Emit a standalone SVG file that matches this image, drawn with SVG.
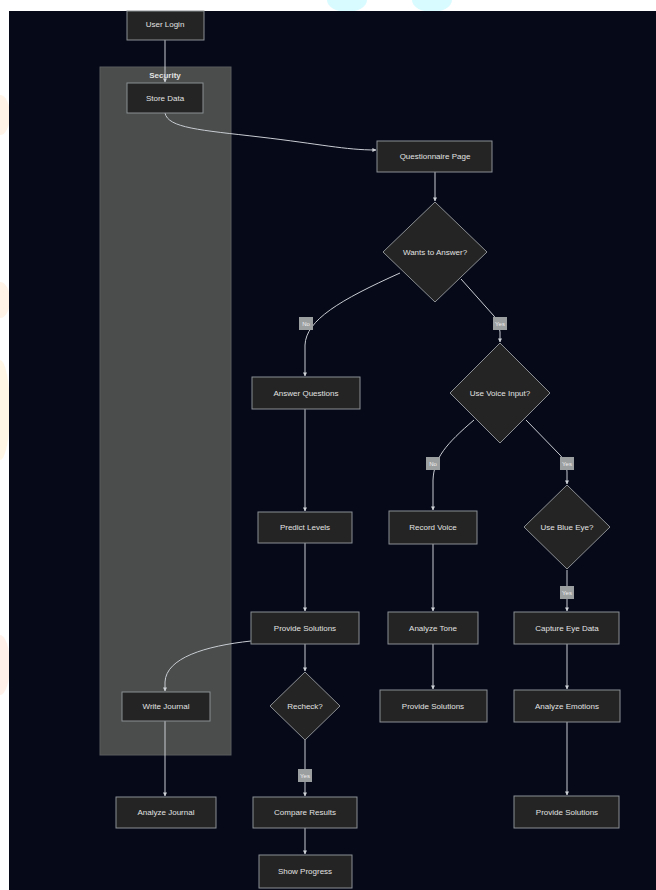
<svg xmlns="http://www.w3.org/2000/svg" width="656" height="890" viewBox="0 0 656 890">
<style>
.nd{fill:#232423;stroke:#8c8f93;stroke-width:1}
.tx{font-family:"Liberation Sans",Arial,sans-serif;font-size:8px;fill:#e2e2e2;text-anchor:middle;dominant-baseline:central}
.ed{fill:none;stroke:#c9ccd2;stroke-width:1}
.lb{fill:#9c9fa0}
.lt{font-family:"Liberation Sans",Arial,sans-serif;font-size:6px;fill:#eeeeee;text-anchor:middle;dominant-baseline:central}
</style>
<defs>
<marker id="ah" viewBox="0 0 10 10" refX="9" refY="5" markerWidth="4" markerHeight="4" orient="auto">
<path d="M0,0 L10,5 L0,10 z" fill="#d0d3d8"/>
</marker>
</defs>
<rect x="0" y="0" width="656" height="890" fill="#ffffff"/>
<g opacity="0.3">
<ellipse cx="347" cy="0" rx="20" ry="12" fill="#7ff2ff"/>
<ellipse cx="432" cy="0" rx="20" ry="12" fill="#7ff2ff"/>
</g>
<g opacity="0.15">
<ellipse cx="0" cy="115" rx="10" ry="20" fill="#ffb060"/>
<ellipse cx="0" cy="300" rx="10" ry="18" fill="#ffb060"/>
<ellipse cx="0" cy="410" rx="10" ry="50" fill="#ffc860"/>
<ellipse cx="0" cy="665" rx="10" ry="30" fill="#ffa070"/>
</g>
<rect x="9" y="11" width="647" height="879" fill="#050918"/>
<g id="security">
<rect x="100" y="67" width="131" height="688" fill="#4a4d4b" stroke="#5a5d5c" stroke-width="1"/>
<text class="tx" x="165" y="75" font-weight="bold">Security</text>
</g>
<g id="connectors">
<path class="ed" d="M165,40 L165,82" marker-end="url(#ah)"/>
<path class="ed" d="M165,113 C168,128 200,130 260,137 C320,144 345,150 376,150" marker-end="url(#ah)"/>
<path class="ed" d="M435,172 L435,201" marker-end="url(#ah)"/>
<path class="ed" d="M400,273 C340,300 306,320 305,345 L305,376" marker-end="url(#ah)"/>
<path class="ed" d="M461,279 L494,316 Q500,323 500,332 L500,342" marker-end="url(#ah)"/>
<path class="ed" d="M474,420 C446,444 434,458 433,480 L433,510" marker-end="url(#ah)"/>
<path class="ed" d="M526,420 L560,455 Q567,462 567,472 L567,484" marker-end="url(#ah)"/>
<path class="ed" d="M567,570 L567,611" marker-end="url(#ah)"/>
<path class="ed" d="M433,544 L433,611" marker-end="url(#ah)"/>
<path class="ed" d="M433,644 L433,689" marker-end="url(#ah)"/>
<path class="ed" d="M567,644 L567,689" marker-end="url(#ah)"/>
<path class="ed" d="M567,722 L567,795" marker-end="url(#ah)"/>
<path class="ed" d="M305,409 L305,511" marker-end="url(#ah)"/>
<path class="ed" d="M305,543 L305,611" marker-end="url(#ah)"/>
<path class="ed" d="M305,644 L305,671" marker-end="url(#ah)"/>
<path class="ed" d="M251,641 C205,646 166,658 165,682 L165,691" marker-end="url(#ah)"/>
<path class="ed" d="M305,740 L305,796" marker-end="url(#ah)"/>
<path class="ed" d="M305,828 L305,854" marker-end="url(#ah)"/>
<path class="ed" d="M165,721 L165,796" marker-end="url(#ah)"/>
<rect class="lb" x="299" y="317" width="14" height="13"/><text class="lt" x="306" y="323.5">No</text>
<rect class="lb" x="493" y="317" width="14" height="13"/><text class="lt" x="500" y="323.5">Yes</text>
<rect class="lb" x="426" y="457" width="14" height="13"/><text class="lt" x="433" y="463.5">No</text>
<rect class="lb" x="560" y="457" width="14" height="13"/><text class="lt" x="567" y="463.5">Yes</text>
<rect class="lb" x="560" y="586" width="14" height="13"/><text class="lt" x="567" y="592.5">Yes</text>
<rect class="lb" x="298" y="769" width="14" height="13"/><text class="lt" x="305" y="775.5">Yes</text>
</g>
<g id="userLogin"><rect class="nd" x="127" y="11" width="77" height="29"/><text class="tx" x="165" y="24">User Login</text></g>
<g id="storeData"><rect class="nd" x="127" y="83" width="76" height="30"/><text class="tx" x="165" y="98">Store Data</text></g>
<g id="questionnaire"><rect class="nd" x="377" y="141" width="115" height="31"/><text class="tx" x="435" y="156.5">Questionnaire Page</text></g>
<g id="wantsAnswer"><polygon class="nd" points="435,202 487,252 435,302 383,252"/><text class="tx" x="435" y="252">Wants to Answer?</text></g>
<g id="answerQuestions"><rect class="nd" x="252" y="377" width="108" height="32"/><text class="tx" x="306" y="393">Answer Questions</text></g>
<g id="useVoice"><polygon class="nd" points="500,343 550,393 500,443 450,393"/><text class="tx" x="500" y="393">Use Voice Input?</text></g>
<g id="recordVoice"><rect class="nd" x="389" y="511" width="88" height="33"/><text class="tx" x="433" y="527.5">Record Voice</text></g>
<g id="useBlueEye"><polygon class="nd" points="567,485 610,527 567,569 524,527"/><text class="tx" x="567" y="527">Use Blue Eye?</text></g>
<g id="predictLevels"><rect class="nd" x="258" y="512" width="94" height="31"/><text class="tx" x="305" y="527.5">Predict Levels</text></g>
<g id="analyzeTone"><rect class="nd" x="388" y="612" width="90" height="32"/><text class="tx" x="433" y="628">Analyze Tone</text></g>
<g id="captureEye"><rect class="nd" x="514" y="612" width="105" height="32"/><text class="tx" x="567" y="628">Capture Eye Data</text></g>
<g id="provideSolutions1"><rect class="nd" x="251" y="612" width="108" height="32"/><text class="tx" x="305" y="628">Provide Solutions</text></g>
<g id="recheck"><polygon class="nd" points="305,672 340,706 305,740 270,706"/><text class="tx" x="305" y="706">Recheck?</text></g>
<g id="writeJournal"><rect class="nd" x="122" y="692" width="88" height="29" fill="#1f201f"/><text class="tx" x="166" y="706.5">Write Journal</text></g>
<g id="provideSolutions2"><rect class="nd" x="380" y="690" width="107" height="32"/><text class="tx" x="433" y="706">Provide Solutions</text></g>
<g id="analyzeEmotions"><rect class="nd" x="514" y="690" width="106" height="32"/><text class="tx" x="567" y="706">Analyze Emotions</text></g>
<g id="analyzeJournal"><rect class="nd" x="116" y="797" width="100" height="31"/><text class="tx" x="166" y="812.5">Analyze Journal</text></g>
<g id="compareResults"><rect class="nd" x="253" y="797" width="104" height="31"/><text class="tx" x="305" y="812.5">Compare Results</text></g>
<g id="provideSolutions3"><rect class="nd" x="514" y="796" width="105" height="32"/><text class="tx" x="567" y="812">Provide Solutions</text></g>
<g id="showProgress"><rect class="nd" x="259" y="855" width="93" height="33"/><text class="tx" x="305" y="871.5">Show Progress</text></g>
</svg>
